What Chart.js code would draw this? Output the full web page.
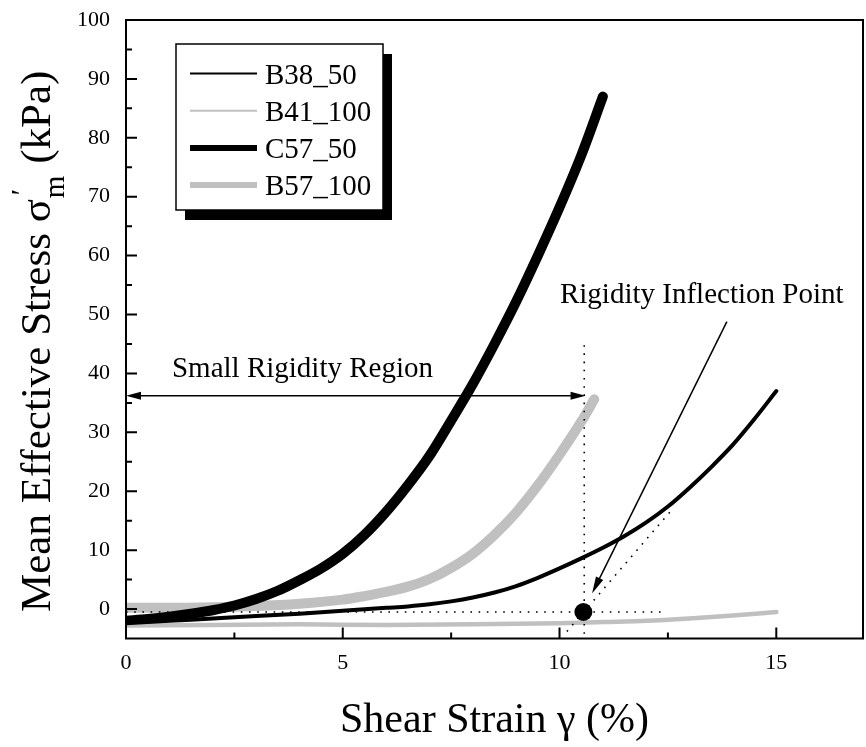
<!DOCTYPE html>
<html>
<head>
<meta charset="utf-8">
<script src="https://cdn.jsdelivr.net/npm/chart.js@4.4.1/dist/chart.umd.min.js"></script>
<style>
  html, body { margin: 0; padding: 0; background: #fff; }
  #wrap { width: 866px; height: 747px; }
</style>
</head>
<body>
<div id="wrap"><canvas id="chart" width="866" height="747"></canvas></div>
<script>
// Shear strain (%) en mean effective stress (kPa) per proef
const b38X = [0, 1, 2, 3, 4, 5, 6, 6.5, 7, 7.5, 8, 8.5, 9, 9.5, 10, 10.5, 11, 11.5, 12, 12.5, 13, 13.5, 14, 14.5, 15];
const b38Y = [-2.4, -2.0, -1.6, -1.2, -0.8, -0.3, 0.2, 0.45, 0.8, 1.3, 1.95, 2.8, 3.9, 5.3, 6.9, 8.6, 10.4, 12.4, 14.7, 17.4, 20.6, 24.1, 27.9, 32.3, 37.0];
const b41X = [0, 2, 4, 6, 8, 10, 11, 12, 13, 14, 15];
const b41Y = [-2.8, -2.7, -2.6, -2.7, -2.6, -2.4, -2.2, -2.0, -1.6, -1.1, -0.5];
const c57X = [0, 0.5, 1, 1.5, 2, 2.5, 3, 3.5, 4, 4.5, 5, 5.5, 6, 6.5, 7, 7.5, 8, 8.5, 9, 9.5, 10, 10.5, 11];
const c57Y = [-2.0, -1.7, -1.3, -0.8, -0.2, 0.6, 1.7, 3.1, 4.9, 6.9, 9.4, 12.6, 16.5, 21.0, 26.0, 32.0, 38.2, 45.0, 52.2, 60.0, 68.2, 77.0, 87.0];
const b57X = [0, 1, 2, 3, 4, 5, 5.5, 6, 6.5, 7, 7.5, 8, 8.5, 9, 9.5, 10, 10.5, 10.8];
const b57Y = [0.2, 0.2, 0.3, 0.5, 0.9, 1.6, 2.2, 2.9, 3.8, 5.1, 7.0, 9.4, 12.6, 16.4, 21.0, 26.2, 31.8, 35.6];

const seriesNames = ['B38_50', 'B41_100', 'C57_50', 'B57_100'];

// tick labels
const xTickLabels = [0, 5, 10, 15];
const yTickLabels = [0, 10, 20, 30, 40, 50, 60, 70, 80, 90, 100];

// annotaties (in data-eenheden)
const inflection = { x: 10.55, y: -0.5 };
const regionArrow = { x0: 0, x1: 10.6, y: 36.2 };
const vDotted = { x: 10.57, y0: 44.8, y1: -5 };
const hDotted = { x0: 0, x1: 12.45, y: -0.5 };
const tangent = { x0: 10.17, y0: -3.8, x1: 12.62, y1: 17.1 };
const pointArrow = { x0: 13.86, y0: 48.8, x1: 10.75, y1: 2.65 };
const regionLabel = { text: 'Small Rigidity Region', x: 1.06, y: 39.4 };
const pointLabel = { text: 'Rigidity Inflection Point', x: 10.01, y: 52.0 };

const SERIF = "'Liberation Serif', 'Times New Roman', serif";
Chart.defaults.font.family = SERIF;
Chart.defaults.color = '#000';

function pts(xs, ys) {
    return xs.map((x, i) => ({ x: x, y: ys[i] }));
}

function arrowHead(ctx, x1, y1, x2, y2, len, half) {
    const a = Math.atan2(y2 - y1, x2 - x1);
    ctx.beginPath();
    ctx.moveTo(x2, y2);
    ctx.lineTo(x2 - len * Math.cos(a) + half * Math.sin(a), y2 - len * Math.sin(a) - half * Math.cos(a));
    ctx.lineTo(x2 - len * Math.cos(a) - half * Math.sin(a), y2 - len * Math.sin(a) + half * Math.cos(a));
    ctx.closePath();
    ctx.fill();
}

const decorations = {
    id: 'decorations',
    afterDatasetsDraw(chart) {
        const { ctx, scales: { x, y } } = chart;
        ctx.save();

        // stippellijnen
        ctx.strokeStyle = '#000';
        ctx.lineWidth = 1.6;
        ctx.setLineDash([1.6, 6.6]);
        ctx.beginPath();
        ctx.moveTo(x.getPixelForValue(vDotted.x), y.getPixelForValue(vDotted.y0));
        ctx.lineTo(x.getPixelForValue(vDotted.x), y.getPixelForValue(vDotted.y1));
        ctx.moveTo(x.getPixelForValue(hDotted.x0), y.getPixelForValue(hDotted.y));
        ctx.lineTo(x.getPixelForValue(hDotted.x1), y.getPixelForValue(hDotted.y));
        ctx.moveTo(x.getPixelForValue(tangent.x0), y.getPixelForValue(tangent.y0));
        ctx.lineTo(x.getPixelForValue(tangent.x1), y.getPixelForValue(tangent.y1));
        ctx.stroke();
        ctx.setLineDash([]);

        // dubbele pijl small rigidity region
        const ay = y.getPixelForValue(regionArrow.y);
        const ax0 = x.getPixelForValue(regionArrow.x0);
        const ax1 = x.getPixelForValue(regionArrow.x1);
        ctx.lineWidth = 1.5;
        ctx.fillStyle = '#000';
        ctx.beginPath();
        ctx.moveTo(ax0 + 4, ay);
        ctx.lineTo(ax1 - 4, ay);
        ctx.stroke();
        arrowHead(ctx, ax1, ay, ax0, ay, 15, 4);
        arrowHead(ctx, ax0, ay, ax1, ay, 15, 4);

        // pijl naar inflectiepunt
        const px0 = x.getPixelForValue(pointArrow.x0), py0 = y.getPixelForValue(pointArrow.y0);
        const px1 = x.getPixelForValue(pointArrow.x1), py1 = y.getPixelForValue(pointArrow.y1);
        ctx.beginPath();
        ctx.moveTo(px0, py0);
        ctx.lineTo(px1 + (px0 - px1) * 0.04, py1 + (py0 - py1) * 0.04);
        ctx.stroke();
        arrowHead(ctx, px0, py0, px1, py1, 17, 4);

        // inflectiepunt
        ctx.beginPath();
        ctx.arc(x.getPixelForValue(inflection.x), y.getPixelForValue(inflection.y), 9, 0, Math.PI * 2);
        ctx.fill();

        // teksten
        ctx.font = '29px ' + SERIF;
        ctx.textAlign = 'left';
        ctx.textBaseline = 'alphabetic';
        ctx.fillText(regionLabel.text, x.getPixelForValue(regionLabel.x), y.getPixelForValue(regionLabel.y));
        ctx.fillText(pointLabel.text, x.getPixelForValue(pointLabel.x), y.getPixelForValue(pointLabel.y));
        ctx.restore();
    },
    afterDraw(chart) {
        const { ctx, chartArea: a, scales: { x, y } } = chart;
        ctx.save();

        // kader
        ctx.strokeStyle = '#000';
        ctx.lineWidth = 2;
        ctx.strokeRect(a.left, a.top, a.right - a.left, a.bottom - a.top);

        // ticks naar binnen
        ctx.beginPath();
        for (let v = 0; v <= x.max; v += 2.5) {
            const px = x.getPixelForValue(v);
            const len = v % 5 === 0 ? 11 : 6;
            ctx.moveTo(px, a.bottom);
            ctx.lineTo(px, a.bottom - len);
        }
        for (let v = 0; v <= y.max; v += 5) {
            const py = y.getPixelForValue(v);
            const len = v % 10 === 0 ? 11 : 6;
            ctx.moveTo(a.left, py);
            ctx.lineTo(a.left + len, py);
        }
        ctx.stroke();

        // legenda met schaduw
        const lx = 176, ly = 44, lw = 207, lh = 166;
        ctx.fillStyle = '#000';
        ctx.fillRect(lx + 9, ly + 10, lw, lh);
        ctx.fillStyle = '#fff';
        ctx.fillRect(lx, ly, lw, lh);
        ctx.lineWidth = 1.5;
        ctx.strokeRect(lx, ly, lw, lh);
        const legendWidths = [2, 2, 6, 6];
        chart.data.datasets.forEach((ds, i) => {
            const rowY = 73.5 + i * 37.2;
            ctx.strokeStyle = ds.borderColor;
            ctx.lineWidth = legendWidths[i];
            ctx.beginPath();
            ctx.moveTo(190, rowY);
            ctx.lineTo(257, rowY);
            ctx.stroke();
            ctx.fillStyle = '#000';
            ctx.font = '29px ' + SERIF;
            ctx.textAlign = 'left';
            ctx.fillText(ds.label, 265, rowY + 10);
        });

        // as-titels
        ctx.fillStyle = '#000';
        ctx.font = '42px ' + SERIF;
        ctx.textAlign = 'center';
        ctx.textBaseline = 'alphabetic';
        ctx.fillText('Shear Strain \u03b3 (%)', (a.left + a.right) / 2, 732);

        ctx.translate(50, 612);
        ctx.rotate(-Math.PI / 2);
        ctx.textAlign = 'left';
        ctx.font = '43px ' + SERIF;
        const main = 'Mean Effective Stress \u03c3';
        ctx.fillText(main, 0, 0);
        let w = ctx.measureText(main).width;
        ctx.font = '29px ' + SERIF;
        ctx.fillText('m', w + 1, 14);
        ctx.fillText('\u2032', w + 4, -19);
        w += ctx.measureText('m').width + 2;
        ctx.font = '43px ' + SERIF;
        ctx.fillText(' (kPa)', w, 0);
        ctx.restore();
    }
};

new Chart(document.getElementById('chart'), {
    type: 'line',
    data: {
        datasets: [
            { label: seriesNames[0], data: pts(b38X, b38Y), borderColor: '#000000', borderWidth: 4 },
            { label: seriesNames[1], data: pts(b41X, b41Y), borderColor: '#c0c0c0', borderWidth: 4.5 },
            { label: seriesNames[2], data: pts(c57X, c57Y), borderColor: '#000000', borderWidth: 10 },
            { label: seriesNames[3], data: pts(b57X, b57Y), borderColor: '#c0c0c0', borderWidth: 10 }
        ].map(d => Object.assign(d, {
            pointRadius: 0,
            fill: false,
            cubicInterpolationMode: 'monotone',
            borderCapStyle: 'round',
            borderJoinStyle: 'round'
        }))
    },
    options: {
        responsive: false,
        animation: false,
        layout: { padding: { top: 20, right: 3, left: 0, bottom: 0 } },
        plugins: { legend: { display: false }, tooltip: { enabled: false } },
        scales: {
            x: {
                type: 'linear', min: 0, max: 17,
                grid: { display: false, drawTicks: false },
                border: { display: false },
                afterBuildTicks: s => { s.ticks = xTickLabels.map(v => ({ value: v })); },
                afterFit: s => { s.height = 108.5; s.paddingLeft = 0; s.paddingRight = 0; },
                ticks: { font: { size: 22 }, color: '#000', padding: 12, maxRotation: 0, autoSkip: false }
            },
            y: {
                type: 'linear', min: -5, max: 100,
                grid: { display: false, drawTicks: false },
                border: { display: false },
                afterBuildTicks: s => { s.ticks = yTickLabels.map(v => ({ value: v })); },
                afterFit: s => { s.width = 126; s.paddingTop = 0; s.paddingBottom = 0; },
                ticks: { font: { size: 22 }, color: '#000', padding: 16, autoSkip: false }
            }
        }
    },
    plugins: [decorations]
});
</script>
</body>
</html>
